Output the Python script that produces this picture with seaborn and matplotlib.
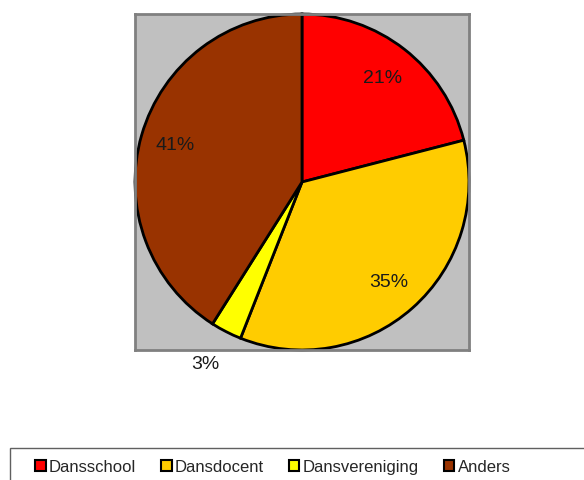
import matplotlib
matplotlib.use("Agg")
import matplotlib.pyplot as plt
import seaborn as sns
import numpy as np
from matplotlib.patches import Patch, Rectangle

categories = ["Dansschool", "Dansdocent", "Dansvereniging", "Anders"]
values = [21, 35, 3, 41]
colors = ["#FF0000", "#FFCC00", "#FFFF00", "#993300"]

sns.set_theme(style="white")
plt.rcParams["font.family"] = ["Liberation Sans", "DejaVu Sans"]

W, H = 584, 481
fig = plt.figure(figsize=(W / 100, H / 100), dpi=100)
ax = fig.add_axes([135 / W, 1 - 351 / H, 334 / W, 336 / H])
ax.set_facecolor("#C0C0C0")

wedges, texts, autotexts = ax.pie(
    values, colors=colors, startangle=90, counterclock=False,
    autopct="%1.0f%%", pctdistance=0.79, radius=1.0, frame=True,
    wedgeprops=dict(edgecolor="black", linewidth=2),
    textprops=dict(fontsize=14, color="#1a1a1a"),
)
# move small-slice label outside
for w, t, v in zip(wedges, autotexts, values):
    if v < 5:
        ang = np.deg2rad((w.theta1 + w.theta2) / 2)
        t.set_position((1.21 * np.cos(ang) - 0.03, 1.21 * np.sin(ang)))
        t.set_clip_on(False)

ax.set_xlim(-1.0, 1.0)
ax.set_ylim(-1.0, 1.0)
ax.set_aspect("auto")
ax.set_xticks([])
ax.set_yticks([])
for s in ax.spines.values():
    s.set_visible(True)
    s.set_color("#808080")
    s.set_linewidth(2)

# legend frame
fig.patches.append(Rectangle((10 / W, -0.05), 1.0, (481 - 449) / H + 0.05,
                             transform=fig.transFigure, fill=False,
                             edgecolor="#606060", linewidth=1, clip_on=False))
handles = [Patch(facecolor=c, edgecolor="black", linewidth=1.5) for c in colors]
fig.legend(handles, categories, loc="center left",
           bbox_to_anchor=(27 / W, 1 - 468 / H), ncol=4, frameon=False,
           fontsize=12, handlelength=0.62, handleheight=0.65,
           handletextpad=0.2, columnspacing=1.5, borderpad=0)

fig.savefig("out.png", dpi=100)
